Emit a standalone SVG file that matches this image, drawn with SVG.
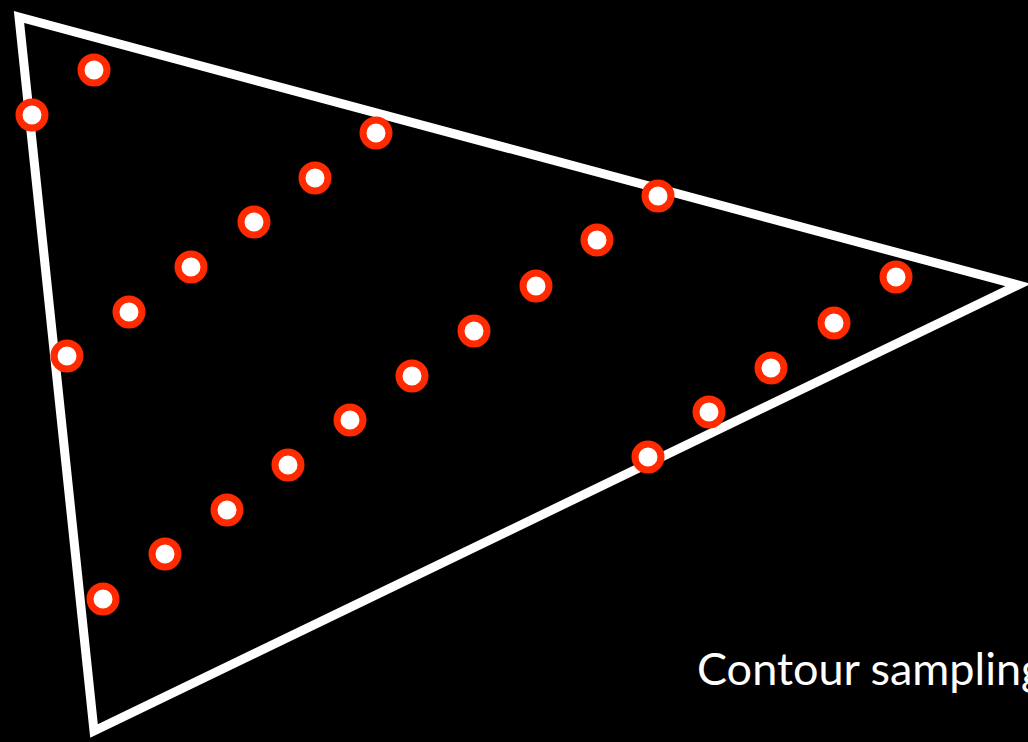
<svg xmlns="http://www.w3.org/2000/svg" width="1028" height="742" viewBox="0 0 1028 742">
<style>
.tri{fill:none;stroke:#fff;stroke-width:9;stroke-linejoin:miter;stroke-miterlimit:20}
.d{fill:#fff;stroke:#ff2a00;stroke-width:7}
.lbl{fill:#fff;font-family:"Lato","Liberation Sans",sans-serif;font-size:45px}
</style>
<rect width="1028" height="742" fill="#000"/>
<g id="triangle"><polygon class="tri" points="19,17 1018,285 94,731"/></g>
<g id="samples">
<circle class="d" cx="94" cy="70" r="13"/>
<circle class="d" cx="32" cy="115" r="13"/>
<circle class="d" cx="376" cy="133" r="13"/>
<circle class="d" cx="315" cy="178" r="13"/>
<circle class="d" cx="254" cy="222" r="13"/>
<circle class="d" cx="191" cy="267" r="13"/>
<circle class="d" cx="129" cy="312" r="13"/>
<circle class="d" cx="67" cy="356" r="13"/>
<circle class="d" cx="658" cy="196" r="13"/>
<circle class="d" cx="597" cy="240" r="13"/>
<circle class="d" cx="536" cy="286" r="13"/>
<circle class="d" cx="474" cy="331" r="13"/>
<circle class="d" cx="412" cy="376" r="13"/>
<circle class="d" cx="350" cy="420" r="13"/>
<circle class="d" cx="288" cy="465" r="13"/>
<circle class="d" cx="227" cy="510" r="13"/>
<circle class="d" cx="165" cy="554" r="13"/>
<circle class="d" cx="103" cy="599" r="13"/>
<circle class="d" cx="896" cy="277" r="13"/>
<circle class="d" cx="834" cy="323" r="13"/>
<circle class="d" cx="771" cy="368" r="13"/>
<circle class="d" cx="709" cy="412" r="13"/>
<circle class="d" cx="648" cy="457" r="13"/>
</g>
<text class="lbl" x="697" y="685">Contour sampling</text>
</svg>
